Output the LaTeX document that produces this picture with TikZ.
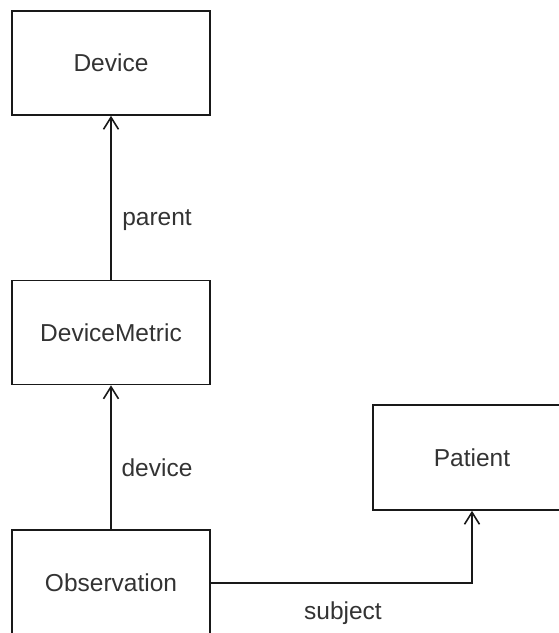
\documentclass[tikz,border=0pt]{standalone}
\usepackage{fontspec}
\setmainfont{Liberation Sans}
\usetikzlibrary{arrows.meta}
\begin{document}
\begin{tikzpicture}[x=1pt,y=-1pt,
  box/.style={draw=black!90, line width=1.6pt, minimum width=198pt, minimum height=104pt, inner sep=0pt, font=\fontsize{24.5}{29}\selectfont, text=black!80},
  lbl/.style={font=\fontsize{24.5}{29}\selectfont, text=black!80, inner sep=0pt},
  conn/.style={draw=black!90, line width=1.6pt, -{Straight Barb[length=12pt,width=15pt,line width=1.6pt]}}]
\clip (0,0) rectangle (559,633);
\useasboundingbox (0,0) rectangle (559,633);
\node[box] (device) at (111,63) {Device};
\node[box] (metric) at (111,332.5) {DeviceMetric};
\node[box, minimum height=106pt] (obs) at (111,583) {Observation};
\node[box, minimum height=105pt] (patient) at (472,457.5) {Patient};
\draw[conn] (metric) -- (device);
\draw[conn] (obs) -- (metric);
\draw[conn] (obs.east) -| (patient.south);
\node[lbl] (lparent) at (157,220) {parent};
\node[lbl] (ldevice) at (157,468) {device};
\node[lbl] (lsubject) at (343,613) {subject};
\end{tikzpicture}
\end{document}
